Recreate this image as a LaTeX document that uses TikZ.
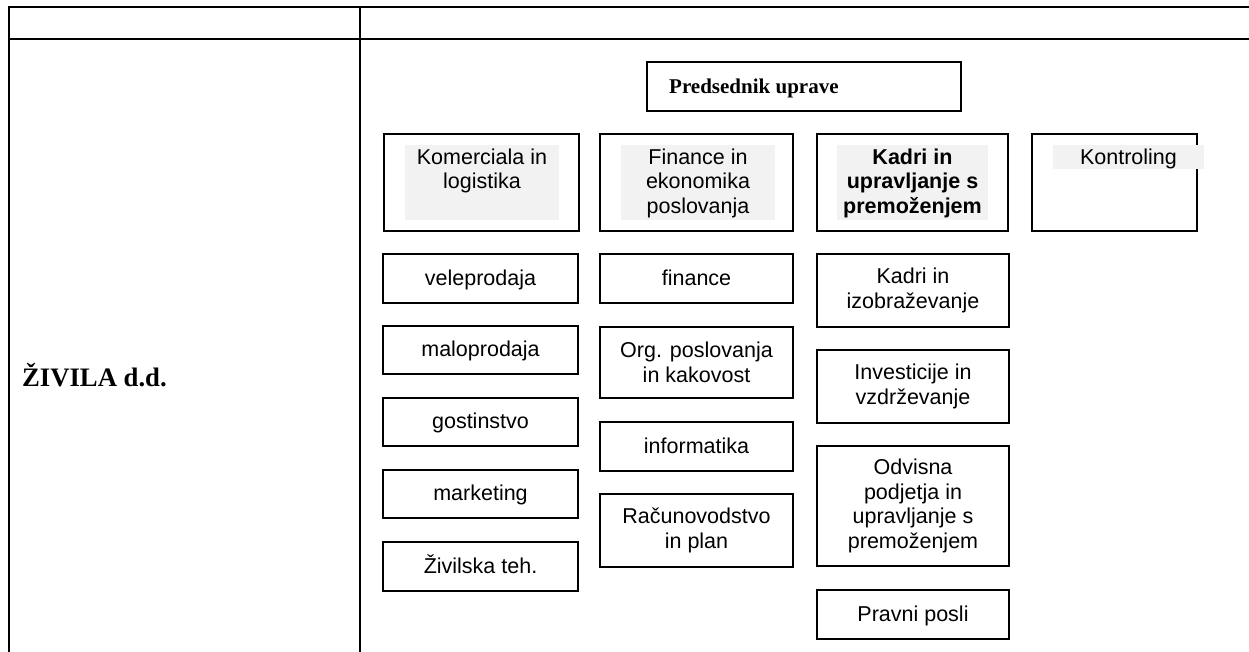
\documentclass[tikz,border=0pt]{standalone}
\usepackage{fontspec}
\setmainfont{Liberation Serif}
\setsansfont{Liberation Sans}
\begin{document}
\begin{tikzpicture}[x=1pt,y=-1pt,
  tline/.style={line width=2.6pt,line cap=rect},
  box/.style={draw,line width=1.5pt,inner sep=0pt,align=center,
    font=\sffamily\fontsize{21.5}{24.5}\selectfont},
  one/.style={text height=16.5pt,text depth=3.5pt},
  hl/.style={fill=black!5,draw=none,inner sep=0pt},
  htext/.style={inner sep=0pt,anchor=north,align=center,
    font=\sffamily\fontsize{21.5}{24.5}\selectfont},
  ttext/.style={inner sep=0pt,font=\rmfamily\bfseries\fontsize{21}{24}\selectfont}
]
\useasboundingbox (0,0) rectangle (1249,651);
% table
\coordinate (tl) at (9,7);
\coordinate (tr) at (1249,7);
\coordinate (ml) at (9,39);
\coordinate (mr) at (1249,39);
\coordinate (bl) at (9,651);
\coordinate (ct) at (360,7);
\coordinate (cb) at (360,651);
\draw[tline] (tr) -- (tl) -- (bl);
\draw[tline] (ml) -- (mr);
\draw[tline] (ct) -- (cb);
\node[ttext,anchor=base west,font=\rmfamily\bfseries\fontsize{26.67}{30}\selectfont] (zivila) at (22,386) {ŽIVILA d.d.};
% president
\node[box,minimum width=314pt,minimum height=49pt] (pred) at (804,86.5) {};
\node[ttext,anchor=base west] (predt) at (669,93) {Predsednik uprave};
% top row
\node[box,minimum width=195pt,minimum height=97pt] (kom) at (481.5,182.5) {};
\node[box,minimum width=193pt,minimum height=97pt] (fin) at (696.5,182.5) {};
\node[box,minimum width=191pt,minimum height=97pt] (kad) at (912.5,182.5) {};
\node[box,minimum width=165pt,minimum height=97pt] (kon) at (1114.5,182.5) {};
\node[hl,minimum width=154pt,minimum height=75pt] (komh) at (482,182.5) {};
\node[hl,minimum width=154pt,minimum height=75pt] (finh) at (698,182.5) {};
\node[hl,minimum width=151pt,minimum height=75pt] (kadh) at (912.5,182.5) {};
\node[hl,minimum width=151pt,minimum height=24pt] (konh) at (1128.5,157) {};
\node[htext] (komt) at (482,146.8) {\strut Komerciala in\\logistika};
\node[htext] (fint) at (698,146.8) {\strut Finance in\\ekonomika\\poslovanja};
\node[htext,font=\sffamily\bfseries\fontsize{21.5}{24.5}\selectfont] (kadt) at (912.5,146.8) {\strut Kadri in\\upravljanje s\\premoženjem};
\node[htext] (kont) at (1128.5,146.8) {\strut Kontroling};
% column 1
\node[box,one,minimum width=195pt,minimum height=49pt] (vele) at (480.5,278.5) {veleprodaja};
\node[box,one,minimum width=195pt,minimum height=48pt] (malo) at (480.5,350) {maloprodaja};
\node[box,one,minimum width=195pt,minimum height=48pt] (gost) at (480.5,422) {gostinstvo};
\node[box,one,minimum width=195pt,minimum height=48pt] (mark) at (480.5,494) {marketing};
\node[box,one,minimum width=195pt,minimum height=49pt] (ziv) at (480.5,566.5) {Živilska teh.};
% column 2
\node[box,one,minimum width=193pt,minimum height=49pt] (finance) at (696.5,278.5) {finance};
\node[box,minimum width=193pt,minimum height=71pt] (org) at (696.5,362.5) {Org. poslovanja\\in kakovost};
\node[box,one,minimum width=193pt,minimum height=49pt] (info) at (696.5,446.5) {informatika};
\node[box,minimum width=193pt,minimum height=73pt] (rac) at (696.5,530.5) {Računovodstvo\\in plan};
% column 3
\node[box,minimum width=192pt,minimum height=73pt] (kizo) at (913,290.5) {Kadri in\\izobraževanje};
\node[box,minimum width=192pt,minimum height=73pt] (inv) at (913,386.5) {Investicije in\\vzdrževanje};
\node[box,minimum width=192pt,minimum height=120pt] (odv) at (913,506) {Odvisna\\podjetja in\\upravljanje s\\premoženjem};
\node[box,one,minimum width=192pt,minimum height=49pt] (prav) at (913,614.5) {Pravni posli};
\end{tikzpicture}
\end{document}
